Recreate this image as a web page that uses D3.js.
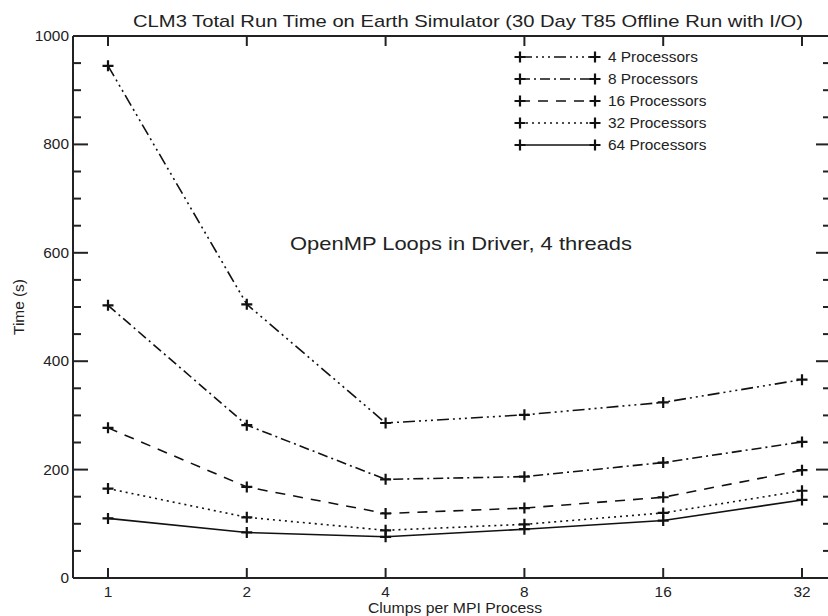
<!DOCTYPE html>
<html>
<head>
<meta charset="utf-8">
<script src="https://cdn.jsdelivr.net/npm/d3@7"></script>
<style>
  body { margin: 0; background: #fff; }
  svg text { font-family: "Liberation Sans", Arial, sans-serif; fill: #222; }
</style>
</head>
<body>
<div id="chart"></div>
<script>
// clumps per MPI process (categorical, evenly spaced)
const clumps = ["1", "2", "4", "8", "16", "32"];

const series_names = ["4 Processors", "8 Processors", "16 Processors", "32 Processors", "64 Processors"];
const time_4 = [945, 505, 286, 301, 324, 366];
const time_8 = [503, 282, 182, 187, 213, 251];
const time_16 = [277, 168, 119, 129, 149, 199];
const time_32 = [165, 112, 88, 99, 120, 161];
const time_64 = [110, 84, 76, 90, 106, 144];

const y_ticks = [0, 200, 400, 600, 800, 1000];
const y_minor = d3.range(0, 1001, 50);

const width = 828, height = 616;
// right frame sits just past the picture edge, only its ticks show
const plot = { left: 73, right: 831, top: 36, bottom: 578 };

const dashes = ["12,4,2,4,2,4,2,4", "10,4,2,4", "10,8", "2,4", null];
const allSeries = [time_4, time_8, time_16, time_32, time_64];

const svg = d3.select("#chart").append("svg")
    .attr("width", width)
    .attr("height", height);

const x = d3.scaleLinear().domain([0, clumps.length - 1]).range([108, 802]);
const y = d3.scaleLinear().domain([0, 1000]).range([plot.bottom, plot.top]);

const axisColor = "#222";

// the reference type is a little wider than Liberation Sans, stretch it
function stretch(sel, f) {
    sel.each(function () {
        const w = this.getComputedTextLength();
        d3.select(this).attr("textLength", w * f).attr("lengthAdjust", "spacingAndGlyphs");
    });
    return sel;
}

// frame lines
svg.append("line").attr("x1", plot.left).attr("x2", plot.right).attr("y1", plot.bottom).attr("y2", plot.bottom)
    .attr("stroke", axisColor).attr("stroke-width", 2);
svg.append("line").attr("x1", plot.left).attr("x2", plot.right).attr("y1", plot.top).attr("y2", plot.top)
    .attr("stroke", axisColor).attr("stroke-width", 2);
svg.append("line").attr("x1", plot.left).attr("x2", plot.left).attr("y1", plot.top).attr("y2", plot.bottom)
    .attr("stroke", axisColor).attr("stroke-width", 2);
svg.append("line").attr("x1", plot.right).attr("x2", plot.right).attr("y1", plot.top).attr("y2", plot.bottom)
    .attr("stroke", axisColor).attr("stroke-width", 2);

// y ticks (left and right)
y_minor.forEach(v => {
    const major = v % 200 === 0;
    const len = major ? 15 : 8;
    svg.append("line").attr("x1", plot.left).attr("x2", plot.left + len)
        .attr("y1", y(v)).attr("y2", y(v)).attr("stroke", axisColor).attr("stroke-width", 2);
    svg.append("line").attr("x1", plot.right).attr("x2", plot.right - len)
        .attr("y1", y(v)).attr("y2", y(v)).attr("stroke", axisColor).attr("stroke-width", 2);
});
y_ticks.forEach(v => {
    stretch(svg.append("text").attr("x", plot.left - 4).attr("y", y(v) + 5)
        .attr("text-anchor", "end").attr("font-size", 14).text(v), 1.1);
});

// x ticks (bottom and top)
clumps.forEach((c, i) => {
    svg.append("line").attr("x1", x(i)).attr("x2", x(i)).attr("y1", plot.bottom).attr("y2", plot.bottom - 10)
        .attr("stroke", axisColor).attr("stroke-width", 2);
    svg.append("line").attr("x1", x(i)).attr("x2", x(i)).attr("y1", plot.top).attr("y2", plot.top + 10)
        .attr("stroke", axisColor).attr("stroke-width", 2);
    stretch(svg.append("text").attr("x", x(i)).attr("y", 597)
        .attr("text-anchor", "middle").attr("font-size", 14).text(c), 1.1);
});

// titles
svg.append("text").attr("x", 133).attr("y", 27)
    .attr("font-size", 17)
    .attr("textLength", 670).attr("lengthAdjust", "spacingAndGlyphs")
    .text("CLM3 Total Run Time on Earth Simulator (30 Day T85 Offline Run with I/O)");
stretch(svg.append("text").attr("x", 455).attr("y", 613).attr("text-anchor", "middle")
    .attr("font-size", 15).text("Clumps per MPI Process"), 1.05);
stretch(svg.append("text").attr("transform", `translate(24, 307) rotate(-90)`)
    .attr("text-anchor", "middle").attr("font-size", 14).text("Time (s)"), 1.1);
svg.append("text").attr("x", 290).attr("y", 250)
    .attr("font-size", 19)
    .attr("textLength", 342).attr("lengthAdjust", "spacingAndGlyphs")
    .text("OpenMP Loops in Driver, 4 threads");

// lines and markers
const line = d3.line().x((d, i) => x(i)).y(d => y(d));

function plus(g, cx, cy) {
    g.append("path")
        .attr("d", `M${cx - 5.5},${cy}H${cx + 5.5}M${cx},${cy - 5.5}V${cy + 5.5}`)
        .attr("stroke", "#111").attr("stroke-width", 2.2).attr("fill", "none");
}

allSeries.forEach((vals, k) => {
    const g = svg.append("g");
    g.append("path").datum(vals)
        .attr("d", line)
        .attr("fill", "none")
        .attr("stroke", "#111")
        .attr("stroke-width", 1.6)
        .attr("stroke-dasharray", dashes[k]);
    vals.forEach((v, i) => plus(g, x(i), y(v)));
});

// legend
const legend = svg.append("g");
series_names.forEach((name, k) => {
    const ly = 57 + k * 22;
    legend.append("line").attr("x1", 520).attr("x2", 595).attr("y1", ly).attr("y2", ly)
        .attr("stroke", "#111").attr("stroke-width", 1.6).attr("stroke-dasharray", dashes[k]);
    plus(legend, 520, ly);
    plus(legend, 595, ly);
    stretch(legend.append("text").attr("x", 608).attr("y", ly + 5).attr("font-size", 14).text(name), 1.1);
});
</script>
</body>
</html>
